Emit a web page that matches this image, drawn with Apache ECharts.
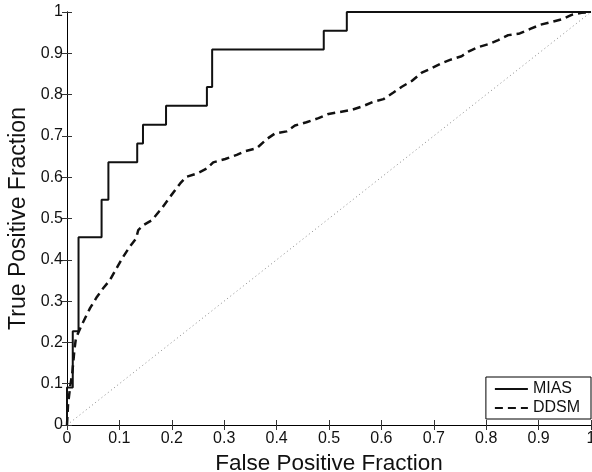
<!DOCTYPE html>
<html>
<head>
<meta charset="utf-8">
<script src="https://cdn.jsdelivr.net/npm/echarts@6/dist/echarts.min.js"></script>
<style>
html,body{margin:0;padding:0;background:#fff;}
#chart{width:592px;height:472px;}
</style>
</head>
<body>
<div id="chart"></div>
<script>
// ---- data ----
const ticks = [0, 0.1, 0.2, 0.3, 0.4, 0.5, 0.6, 0.7, 0.8, 0.9, 1];
const xName = 'False Positive Fraction';
const yName = 'True Positive Fraction';
const seriesNames = ['MIAS', 'DDSM'];

// MIAS ROC (step curve, corner points)
const miasFPR = [0, 0, 0.011, 0.022, 0.066, 0.079, 0.134, 0.145, 0.189, 0.267, 0.277, 0.490, 0.534, 1];
const miasTPR = [0, 0.0909, 0.2273, 0.4545, 0.5455, 0.6364, 0.6818, 0.7273, 0.7727, 0.8182, 0.9091, 0.9545, 1, 1];

// DDSM ROC
const ddsmFPR = [0, 0.002, 0.006, 0.010, 0.014, 0.017, 0.028, 0.044, 0.057, 0.069, 0.082, 0.098, 0.107, 0.120, 0.132, 0.136, 0.146, 0.162, 0.181, 0.197, 0.216, 0.228, 0.248, 0.267, 0.279, 0.302, 0.324, 0.340, 0.362, 0.381, 0.397, 0.419, 0.435, 0.457, 0.480, 0.499, 0.521, 0.543, 0.565, 0.585, 0.604, 0.623, 0.639, 0.658, 0.677, 0.696, 0.715, 0.731, 0.753, 0.766, 0.785, 0.804, 0.823, 0.842, 0.864, 0.884, 0.903, 0.922, 0.944, 0.963, 0.982, 1];
const ddsmTPR = [0, 0.05, 0.093, 0.125, 0.18, 0.21, 0.242, 0.283, 0.31, 0.331, 0.351, 0.387, 0.407, 0.432, 0.452, 0.472, 0.484, 0.496, 0.525, 0.553, 0.585, 0.601, 0.609, 0.621, 0.636, 0.644, 0.654, 0.663, 0.670, 0.692, 0.706, 0.711, 0.725, 0.733, 0.743, 0.753, 0.758, 0.763, 0.772, 0.783, 0.789, 0.805, 0.819, 0.833, 0.853, 0.864, 0.876, 0.884, 0.893, 0.904, 0.915, 0.922, 0.932, 0.944, 0.948, 0.959, 0.969, 0.975, 0.982, 0.993, 0.998, 1];

// chance diagonal
const diagFPR = [0, 1];
const diagTPR = [0, 1];

const zip = (a, b) => a.map((v, i) => [v, b[i]]);
const FONT = '"Liberation Sans", Arial, Helvetica, sans-serif';

const chart = echarts.init(document.getElementById('chart'), null, {renderer: 'canvas'});

const axisCommon = {
  type: 'value', min: ticks[0], max: ticks[ticks.length - 1], interval: 0.1,
  splitLine: {show: false},
  axisLine: {show: true, lineStyle: {color: '#000', width: 1}},
  axisTick: {show: true, inside: true, length: 5, lineStyle: {color: '#333', width: 1}}
};

chart.setOption({
  animation: false,
  backgroundColor: '#fff',
  grid: {left: 67, right: 1, top: 12, bottom: 47, containLabel: false, outerBoundsMode: 'none'},
  xAxis: [
    Object.assign({}, axisCommon, {
      position: 'bottom',
      name: xName, nameLocation: 'middle', nameGap: 18,
      nameTextStyle: {fontFamily: FONT, fontSize: 22.5, color: '#111'},
      axisLabel: {fontFamily: FONT, fontSize: 16, color: '#111', margin: 6, showMinLabel: true, showMaxLabel: true}
    }),
    Object.assign({}, axisCommon, {position: 'top', axisLabel: {show: false}})
  ],
  yAxis: [
    Object.assign({}, axisCommon, {
      position: 'left',
      name: yName, nameLocation: 'middle', nameGap: 31,
      nameTextStyle: {fontFamily: FONT, fontSize: 23, color: '#111'},
      axisLabel: {fontFamily: FONT, fontSize: 16, color: '#111', margin: 4, showMinLabel: true, showMaxLabel: true}
    }),
    Object.assign({}, axisCommon, {position: 'right', axisLabel: {show: false}})
  ],
  legend: {
    data: seriesNames,
    orient: 'vertical',
    right: 1, bottom: 53,
    padding: [4, 11, 3, 8],
    itemWidth: 33, itemHeight: 14, itemGap: 3,
    itemStyle: {opacity: 0},
    backgroundColor: '#fff',
    borderColor: '#000', borderWidth: 1, borderRadius: 0,
    textStyle: {fontFamily: FONT, fontSize: 16, color: '#111'}
  },
  series: [
    {
      name: 'chance', type: 'line', data: zip(diagFPR, diagTPR),
      showSymbol: false, symbol: 'none', silent: true,
      lineStyle: {color: '#888', width: 1, type: [1, 3]}
    },
    {
      name: seriesNames[0], type: 'line', data: zip(miasFPR, miasTPR),
      step: 'end', showSymbol: false, symbol: 'none',
      itemStyle: {color: '#111'},
      lineStyle: {color: '#111', width: 2, type: 'solid'}
    },
    {
      name: seriesNames[1], type: 'line', data: zip(ddsmFPR, ddsmTPR),
      showSymbol: false, symbol: 'none',
      itemStyle: {color: '#111'},
      lineStyle: {color: '#111', width: 2.5, type: [8, 5]}
    }
  ]
});
</script>
</body>
</html>
